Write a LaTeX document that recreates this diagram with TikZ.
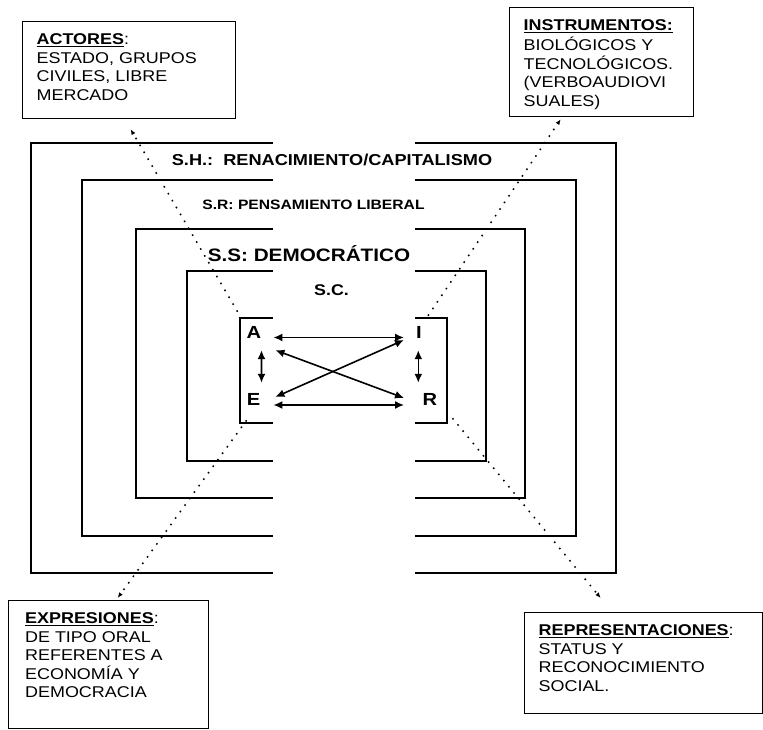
\documentclass[tikz,border=0pt]{standalone}
\usepackage{fontspec}
\setmainfont{Liberation Sans}[FakeStretch=1.15]
\usepackage{tikz}
\usetikzlibrary{positioning,arrows.meta,calc}

\newcommand{\boxtext}[3]{\parbox[t][#2][t]{#1}{\raggedright\strut #3}}
\newcommand{\ulbf}[1]{\setbox0\hbox{\textbf{#1}}\rlap{\rule[-2.4pt]{\wd0}{1.1pt}}\box0}

\begin{document}
\begin{tikzpicture}[x=1pt, y=-1pt,
  every node/.style={font=\bfseries},
  lvl/.style  ={line width=2.3pt, line join=miter},
  info/.style ={draw, line width=1.3pt, anchor=north west, inner xsep=14pt, inner ysep=10pt,
                font=\fontsize{15.6}{18.5}\selectfont\mdseries},
  lbl/.style  ={anchor=base, inner sep=0pt},
  letra/.style={anchor=base, inner sep=0pt, font=\fontsize{17.5}{20}\selectfont\bfseries},
  arr/.style  ={{Latex[length=9pt,width=8pt]}-{Latex[length=9pt,width=8pt]}, line width=1.6pt},
  lead/.style ={-{Latex[length=5.5pt,width=4.5pt]}, line width=1.5pt, dash pattern=on 1.6pt off 6.4pt}]

\useasboundingbox (0,0) rectangle (763,729);

%% ── Nested systems (left and right brackets) ─────────────────────
\draw[lvl] (273,143) -- (31,143) -- (31,573) -- (273,573);
\draw[lvl] (415,143) -- (616,143) -- (616,573) -- (415,573);
\draw[lvl] (273,180) -- (82,180) -- (82,536) -- (273,536);
\draw[lvl] (415,180) -- (576,180) -- (576,536) -- (415,536);
\draw[lvl] (273,229) -- (136,229) -- (136,498) -- (273,498);
\draw[lvl] (415,229) -- (525,229) -- (525,498) -- (415,498);
\draw[lvl] (273,271) -- (187,271) -- (187,461) -- (273,461);
\draw[lvl] (415,271) -- (486,271) -- (486,461) -- (415,461);
\draw[lvl] (273,318) -- (240,318) -- (240,423) -- (273,423);
\draw[lvl] (415,318) -- (447,318) -- (447,423) -- (415,423);

%% ── System labels ────────────────────────────────────────────────
\node[lbl, font=\fontsize{15.8}{18}\selectfont\bfseries] (sh) at (332,165.7) {S.H.:\ \ RENACIMIENTO/CAPITALISMO};
\node[lbl, font=\fontsize{13.6}{16}\selectfont\bfseries] (sr) at (313.5,209) {S.R: PENSAMIENTO LIBERAL};
\node[lbl, font=\fontsize{18}{20}\selectfont\bfseries]   (ss) at (309,261.7) {S.S: DEMOCRÁTICO};
\node[lbl, font=\fontsize{15.5}{18}\selectfont\bfseries] (sc) at (331.5,295.7) {S.C.};

%% ── Core letters ─────────────────────────────────────────────────
\node[letra] (A) at (254,338)   {A};
\node[letra] (E) at (253.5,405) {E};
\node[letra] (I) at (419,338)   {I};
\node[letra] (R) at (430,405)   {R};

%% ── Corner boxes ─────────────────────────────────────────────────
\node[info] (actores) at (22,21)
  {\boxtext{185pt}{77pt}{\ulbf{ACTORES}:\\ESTADO, GRUPOS\\CIVILES, LIBRE\\MERCADO}};
\node[info] (instrum) at (509,7)
  {\boxtext{156pt}{89pt}{\ulbf{INSTRUMENTOS:}\\BIOLÓGICOS Y\\TECNOLÓGICOS.\\(VERBOAUDIOVI\\SUALES)}};
\node[info, inner xsep=16.5pt] (expres) at (8,600)
  {\boxtext{167pt}{108pt}{\ulbf{EXPRESIONES}:\\DE TIPO ORAL\\REFERENTES A\\ECONOMÍA Y\\DEMOCRACIA}};
\node[info] (repres) at (524,612)
  {\boxtext{210pt}{81pt}{\ulbf{REPRESENTACIONES}:\\STATUS Y\\RECONOCIMIENTO\\SOCIAL.}};

%% ── Relations inside the core ────────────────────────────────────
\draw[arr] ($(A.east)+(12,5.5)$)        -- ($(I.west)+(-12,5.5)$);
\draw[arr] ($(E.east)+(13,6)$)          -- ($(R.west)+(-18.5,6)$);
\draw[arr] ($(A.south east)+(14,12)$)   -- ($(R.west)+(-18.5,-1)$);
\draw[arr] ($(E.east)+(15,-2)$)         -- ($(I.west)+(-12,8)$);
\draw[arr] ($(A.south east)+(0,12)$)    -- ($(E.north east)+(1.1,-10)$);
\draw[arr] ($(I.south)+(-0.7,12)$)      -- ($(R.north)+(-11.7,-10)$);

%% ── Dotted leaders to the boxes ──────────────────────────────────
\draw[lead] ($(A.north west)+(-9,-14)$) -- ($(actores.south)+(1.5,10)$);
\draw[lead] ($(I.north)+(9,-10)$)       -- ($(instrum.south)+(-41,2)$);
\draw[lead] ($(E.south west)+(0,15)$)   -- ($(expres.north)+(9,-2)$);
\draw[lead] ($(R.south east)+(15,13)$)  -- ($(repres.north)+(-43,-14)$);
\end{tikzpicture}
\end{document}
